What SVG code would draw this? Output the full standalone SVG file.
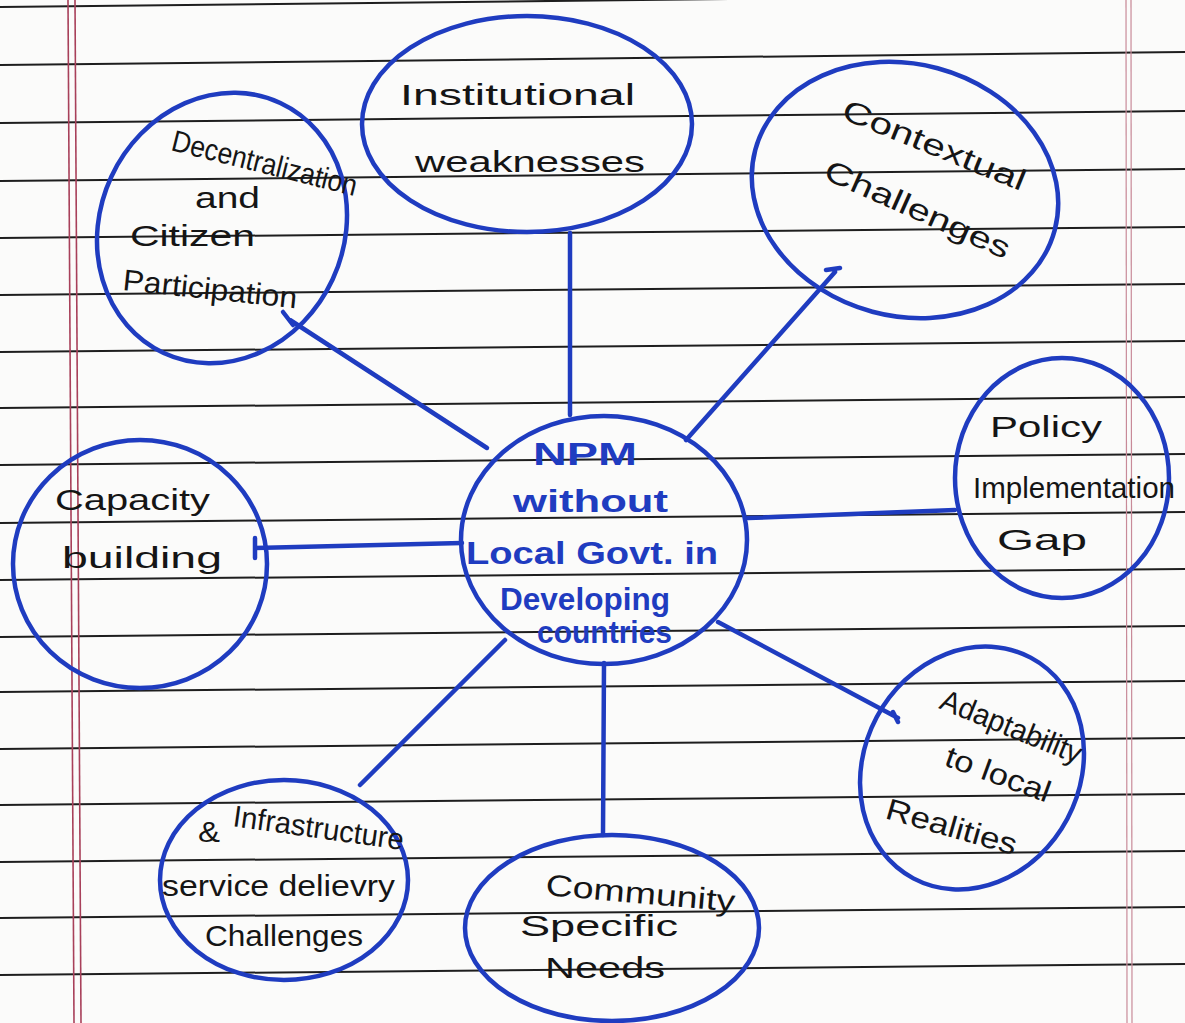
<svg xmlns="http://www.w3.org/2000/svg" width="1185" height="1023" viewBox="0 0 1185 1023">
<defs>
<style>
.paper{fill:#fbfbfa}
.rule{stroke:#1e1e1e;stroke-width:2}
.margin{stroke:#a8405a;stroke-width:1.6;fill:none}
.marginr{stroke:#c88a98;stroke-width:1.2;fill:none}
.node{fill:none;stroke:#1f3cc0;stroke-width:4.5}
.edge{fill:none;stroke:#1f3cc0;stroke-width:4.5;stroke-linecap:round}
.t{font-family:"Liberation Sans","DejaVu Sans",sans-serif;fill:#151515;font-size:30px}
.tb{font-family:"Liberation Sans","DejaVu Sans",sans-serif;fill:#1f3cc0;font-size:32px;font-weight:bold}
</style>
</defs>
<rect class="paper" x="0" y="0" width="1185" height="1023"/>
<g id="ruled-lines">
<line class="rule" x1="0" y1="7" x2="1185" y2="-6"/>
<line class="rule" x1="0" y1="65" x2="1185" y2="52"/>
<line class="rule" x1="0" y1="123" x2="1185" y2="111"/>
<line class="rule" x1="0" y1="181" x2="1185" y2="169"/>
<line class="rule" x1="0" y1="238" x2="1185" y2="227"/>
<line class="rule" x1="0" y1="295" x2="1185" y2="284"/>
<line class="rule" x1="0" y1="352" x2="1185" y2="341"/>
<line class="rule" x1="0" y1="408" x2="1185" y2="397"/>
<line class="rule" x1="0" y1="465" x2="1185" y2="454"/>
<line class="rule" x1="0" y1="523" x2="1185" y2="512"/>
<line class="rule" x1="0" y1="580" x2="1185" y2="569"/>
<line class="rule" x1="0" y1="637" x2="1185" y2="626"/>
<line class="rule" x1="0" y1="692" x2="1185" y2="681"/>
<line class="rule" x1="0" y1="749" x2="1185" y2="738"/>
<line class="rule" x1="0" y1="805" x2="1185" y2="794"/>
<line class="rule" x1="0" y1="862" x2="1185" y2="851"/>
<line class="rule" x1="0" y1="918" x2="1185" y2="907"/>
<line class="rule" x1="0" y1="975" x2="1185" y2="964"/>
</g>
<g id="margins">
<line class="margin" x1="68" y1="0" x2="74" y2="1023"/>
<line class="margin" x1="75" y1="0" x2="81" y2="1023"/>
<line class="marginr" x1="1126" y1="0" x2="1127" y2="1023"/>
<line class="marginr" x1="1131" y1="0" x2="1132" y2="1023"/>
</g>
<g id="connectors">
<path class="edge" d="M487 448 L290 320 M283 312 L293 325"/>
<path class="edge" d="M570 415 L570 233"/>
<path class="edge" d="M686 440 L835 272 M826 270 L840 268"/>
<path class="edge" d="M748 518 L955 510"/>
<path class="edge" d="M462 543 L255 548 M255 538 L255 558"/>
<path class="edge" d="M718 622 L898 718 M893 712 L898 722"/>
<path class="edge" d="M604 663 L603 835"/>
<path class="edge" d="M505 640 L360 785"/>
</g>
<g id="node-center">
<ellipse class="node" cx="604" cy="540" rx="143" ry="124"/>
<text class="tb" x="533" y="465" textLength="104" lengthAdjust="spacingAndGlyphs">NPM</text>
<text class="tb" x="513" y="512" textLength="155" lengthAdjust="spacingAndGlyphs">without</text>
<text class="tb" x="466" y="564" textLength="252" lengthAdjust="spacingAndGlyphs">Local Govt. in</text>
<text class="tb" x="500" y="610" textLength="170" lengthAdjust="spacingAndGlyphs">Developing</text>
<text class="tb" x="537" y="643" font-size="26" textLength="135" lengthAdjust="spacingAndGlyphs">countries</text>
</g>
<g id="node-decentralization">
<ellipse class="node" cx="222" cy="228" rx="122" ry="138" transform="rotate(25 222 228)"/>
<text class="t" x="170" y="150" font-size="26" textLength="190" lengthAdjust="spacingAndGlyphs" transform="rotate(14 170 150)">Decentralization</text>
<text class="t" x="195" y="208" font-size="30" textLength="65" lengthAdjust="spacingAndGlyphs">and</text>
<text class="t" x="130" y="246" font-size="30" textLength="125" lengthAdjust="spacingAndGlyphs">Citizen</text>
<text class="t" x="122" y="290" font-size="28" textLength="175" lengthAdjust="spacingAndGlyphs" transform="rotate(6 122 290)">Participation</text>
</g>
<g id="node-institutional">
<ellipse class="node" cx="527" cy="124" rx="165" ry="108"/>
<text class="t" x="400" y="105" font-size="34" textLength="235" lengthAdjust="spacingAndGlyphs">Institutional</text>
<text class="t" x="415" y="172" font-size="34" textLength="230" lengthAdjust="spacingAndGlyphs">weaknesses</text>
</g>
<g id="node-contextual">
<ellipse class="node" cx="905" cy="190" rx="155" ry="126" transform="rotate(15 905 190)"/>
<text class="t" x="840" y="118" font-size="30" textLength="195" lengthAdjust="spacingAndGlyphs" transform="rotate(22 840 118)">Contextual</text>
<text class="t" x="822" y="178" font-size="30" textLength="200" lengthAdjust="spacingAndGlyphs" transform="rotate(24 822 178)">Challenges</text>
</g>
<g id="node-policy">
<ellipse class="node" cx="1062" cy="478" rx="107" ry="120"/>
<text class="t" x="990" y="437" font-size="34" textLength="112" lengthAdjust="spacingAndGlyphs">Policy</text>
<text class="t" x="973" y="498" font-size="28" textLength="202" lengthAdjust="spacingAndGlyphs">Implementation</text>
<text class="t" x="997" y="550" font-size="30" textLength="90" lengthAdjust="spacingAndGlyphs">Gap</text>
</g>
<g id="node-capacity">
<ellipse class="node" cx="140" cy="564" rx="127" ry="124"/>
<text class="t" x="55" y="510" font-size="32" textLength="155" lengthAdjust="spacingAndGlyphs">Capacity</text>
<text class="t" x="62" y="568" font-size="32" textLength="160" lengthAdjust="spacingAndGlyphs">building</text>
</g>
<g id="node-adaptability">
<ellipse class="node" cx="972" cy="768" rx="108" ry="125" transform="rotate(28 972 768)"/>
<text class="t" x="938" y="708" font-size="26" textLength="150" lengthAdjust="spacingAndGlyphs" transform="rotate(22 938 708)">Adaptability</text>
<text class="t" x="943" y="765" font-size="28" textLength="110" lengthAdjust="spacingAndGlyphs" transform="rotate(20 943 765)">to local</text>
<text class="t" x="884" y="818" font-size="28" textLength="135" lengthAdjust="spacingAndGlyphs" transform="rotate(16 884 818)">Realities</text>
</g>
<g id="node-infrastructure">
<ellipse class="node" cx="284" cy="880" rx="124" ry="100"/>
<text class="t" x="198" y="842" font-size="28" textLength="22" lengthAdjust="spacingAndGlyphs">&amp;</text>
<text class="t" x="232" y="826" font-size="26" textLength="172" lengthAdjust="spacingAndGlyphs" transform="rotate(8 232 826)">Infrastructure</text>
<text class="t" x="162" y="896" font-size="30" textLength="233" lengthAdjust="spacingAndGlyphs">service delievry</text>
<text class="t" x="205" y="946" font-size="32" textLength="158" lengthAdjust="spacingAndGlyphs">Challenges</text>
</g>
<g id="node-community">
<ellipse class="node" cx="612" cy="928" rx="147" ry="93"/>
<text class="t" x="545" y="895" font-size="30" textLength="190" lengthAdjust="spacingAndGlyphs" transform="rotate(5 545 895)">Community</text>
<text class="t" x="520" y="936" font-size="30" textLength="158" lengthAdjust="spacingAndGlyphs">Specific</text>
<text class="t" x="545" y="978" font-size="30" textLength="120" lengthAdjust="spacingAndGlyphs">Needs</text>
</g>
</svg>
